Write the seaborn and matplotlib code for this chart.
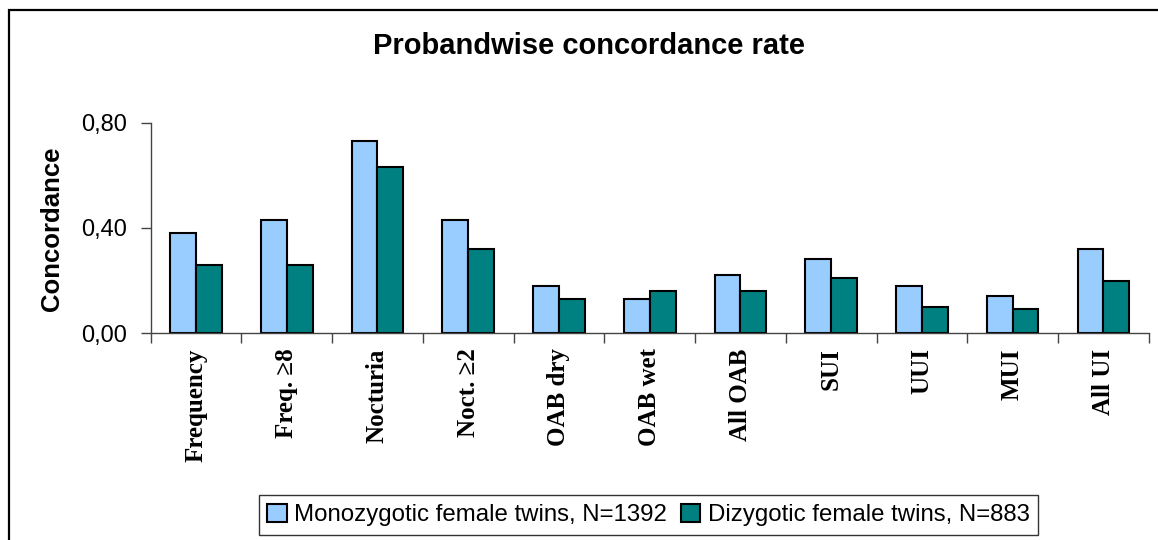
import matplotlib
matplotlib.use("Agg")
import matplotlib.pyplot as plt
import matplotlib.patches as mpatches
import seaborn as sns
import pandas as pd
import numpy as np

categories = ["Frequency", "Freq. \u22658", "Nocturia", "Noct. \u22652", "OAB dry",
              "OAB wet", "All OAB", "SUI", "UUI", "MUI", "All UI"]
mz_values = [0.38, 0.43, 0.73, 0.43, 0.18, 0.13, 0.22, 0.28, 0.18, 0.14, 0.32]
dz_values = [0.26, 0.26, 0.63, 0.32, 0.13, 0.16, 0.16, 0.21, 0.10, 0.09, 0.20]
groups = ["Monozygotic female twins, N=1392", "Dizygotic female twins, N=883"]
colors = ["#99CCFF", "#008080"]
yticks = [0.0, 0.4, 0.8]
ytick_labels = ["0,00", "0,40", "0,80"]

df = pd.DataFrame({
    "category": categories * 2,
    "value": mz_values + dz_values,
    "group": [groups[0]] * len(categories) + [groups[1]] * len(categories),
})

sns.set_style("white", {"text.color": "black", "xtick.color": "black",
                        "ytick.color": "black"})
plt.rcParams["font.family"] = ["Liberation Sans", "DejaVu Sans"]

fig = plt.figure(figsize=(11.58, 5.4), dpi=100)
ax = fig.add_axes([0.130, 0.383, 0.862, 0.390])

sns.barplot(data=df, x="category", y="value", hue="group", palette=colors,
            width=0.57, edgecolor="black", linewidth=1.5, saturation=1,
            ax=ax, errorbar=None)

ax.set_xlim(-0.5, len(categories) - 0.5)
ax.set_ylim(0, 0.8)
ax.set_yticks(yticks)
ax.set_yticklabels(ytick_labels, fontsize=17)
ax.set_xlabel("")
ax.set_ylabel("")

# category labels at centres, tick marks at the boundaries
ax.set_xticks(range(len(categories)))
ax.set_xticklabels(categories, rotation=90, fontsize=18, fontweight="bold",
                   family=["Liberation Serif", "DejaVu Serif"], va="top")
ax.set_xticks(np.arange(-0.5, len(categories)), minor=True)
ax.tick_params(axis="x", which="major", length=0, pad=11, labelcolor="black")
ax.tick_params(axis="x", which="minor", length=7, width=1, color="#444444",
               direction="out", bottom=True)
ax.tick_params(axis="y", length=7, width=1, color="#444444", direction="out",
               left=True, pad=10, labelcolor="black")

for side in ["top", "right"]:
    ax.spines[side].set_visible(False)
for side in ["left", "bottom"]:
    ax.spines[side].set_color("#444444")
    ax.spines[side].set_linewidth(1)

handles, labels = ax.get_legend_handles_labels()
ax.legend_.remove()
leg = fig.legend(handles, labels, loc="center", bbox_to_anchor=(0.560, 0.046),
                 ncol=2, frameon=True, fancybox=False, handlelength=0.8,
                 handleheight=0.8, handletextpad=0.3, columnspacing=0.6,
                 borderpad=0.35, labelcolor="black",
                 prop={"family": ["Liberation Sans"], "size": 17.3})
leg.get_frame().set_edgecolor("black")
leg.get_frame().set_linewidth(1)

fig.text(0.509, 0.915, "Probandwise concordance rate", ha="center", va="center",
         fontsize=21, fontweight="bold", color="black")
fig.text(0.045, 0.577, "Concordance", ha="center", va="center", rotation=90,
         fontsize=18.5, fontweight="bold", color="black")

# outer chart border (runs off the right and bottom edges)
border = mpatches.Rectangle((9 / 1158, -0.1), 1.2, 1 - 10 / 540 + 0.1,
                            transform=fig.transFigure, fill=False,
                            edgecolor="black", linewidth=1.6)
fig.patches.append(border)

fig.savefig("out.png", dpi=100)
